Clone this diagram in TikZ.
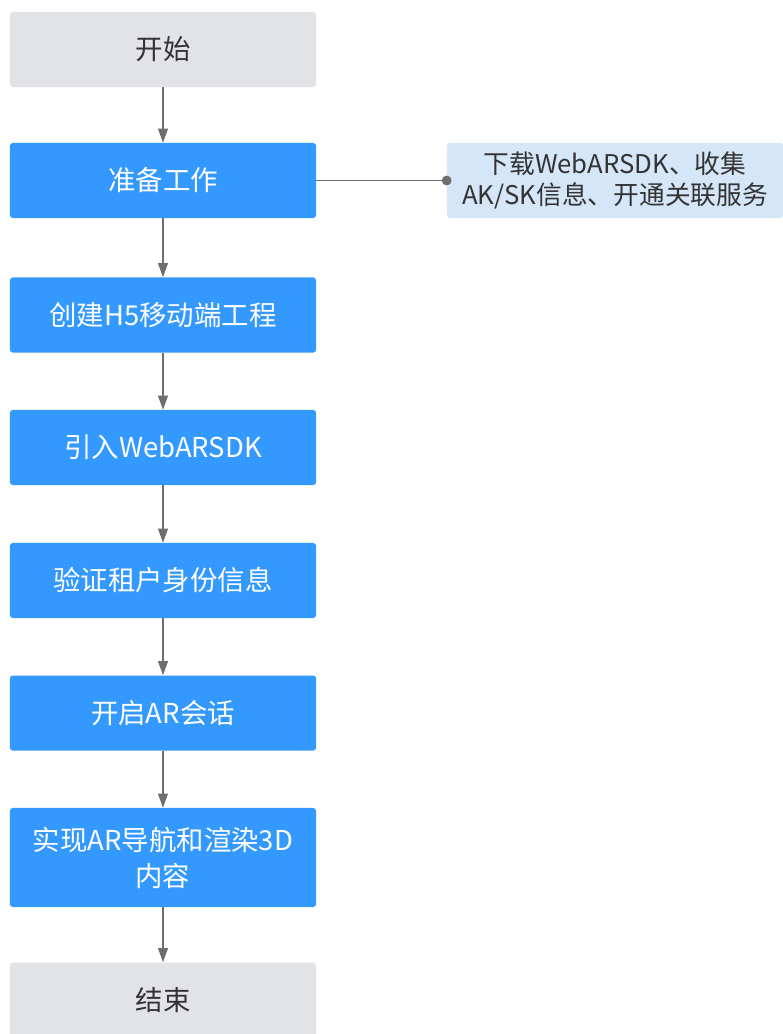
\documentclass[tikz,border=0pt]{standalone}
\usepackage{fontspec}
\setmainfont{Noto Sans CJK SC}
\usetikzlibrary{arrows.meta}

\definecolor{stepblue}{RGB}{51,153,255}
\definecolor{endgray}{RGB}{225,227,230}
\definecolor{noteblue}{RGB}{212,230,248}
\definecolor{textdark}{RGB}{51,51,51}
\definecolor{linegray}{RGB}{110,110,110}

\tikzset{
  stepbox/.style={rectangle, rounded corners=2pt, fill=stepblue, text=white,
    minimum width=7.65cm, minimum height=1.875cm, align=center,
    font=\fontsize{19.5pt}{25.6pt}\selectfont},
  endbox/.style={stepbox, fill=endgray, text=textdark},
  notebox/.style={rectangle, rounded corners=2pt, fill=noteblue, text=textdark,
    minimum width=8.4cm, minimum height=1.875cm, align=center,
    font=\fontsize{18.3pt}{22pt}\selectfont},
  flow/.style={draw=linegray, line width=1pt, -{Triangle[length=10pt,width=7pt]}}
}

\begin{document}
\begin{tikzpicture}[x=0.025cm, y=-0.025cm]
  \useasboundingbox (0,0) rectangle (783,1034);

  % main steps
  \node[endbox]  (start)   at (163,49.5)  {开始};
  \node[stepbox] (prepare) at (163,180.5) {准备工作};
  \node[stepbox] (create)  at (163,315)   {创建H5移动端工程};
  \node[stepbox] (import)  at (163,447.5) {引入WebARSDK};
  \node[stepbox] (verify)  at (163,580.5) {验证租户身份信息};
  \node[stepbox] (session) at (163,713)   {开启AR会话};
  \node[stepbox, minimum height=2.475cm] (render) at (163,857.5)
        {实现AR导航和渲染3D\\内容};
  \node[endbox]  (finish)  at (163,1000)  {结束};

  % side note for the preparation step
  \node[notebox] (prepnote) at (615,180.5)
        {下载WebARSDK、收集\\AK/SK信息、开通关联服务};

  % arrows down the flow
  \draw[flow] (start)   -- (prepare);
  \draw[flow] (prepare) -- (create);
  \draw[flow] (create)  -- (import);
  \draw[flow] (import)  -- (verify);
  \draw[flow] (verify)  -- (session);
  \draw[flow] (session) -- (render);
  \draw[flow] (render)  -- (finish);

  % link to the note, ending in a dot
  \draw[draw=linegray, line width=1pt] (prepare.east) -- (prepnote.west);
  \fill[linegray] (prepnote.west) circle (3.5pt);
\end{tikzpicture}
\end{document}
